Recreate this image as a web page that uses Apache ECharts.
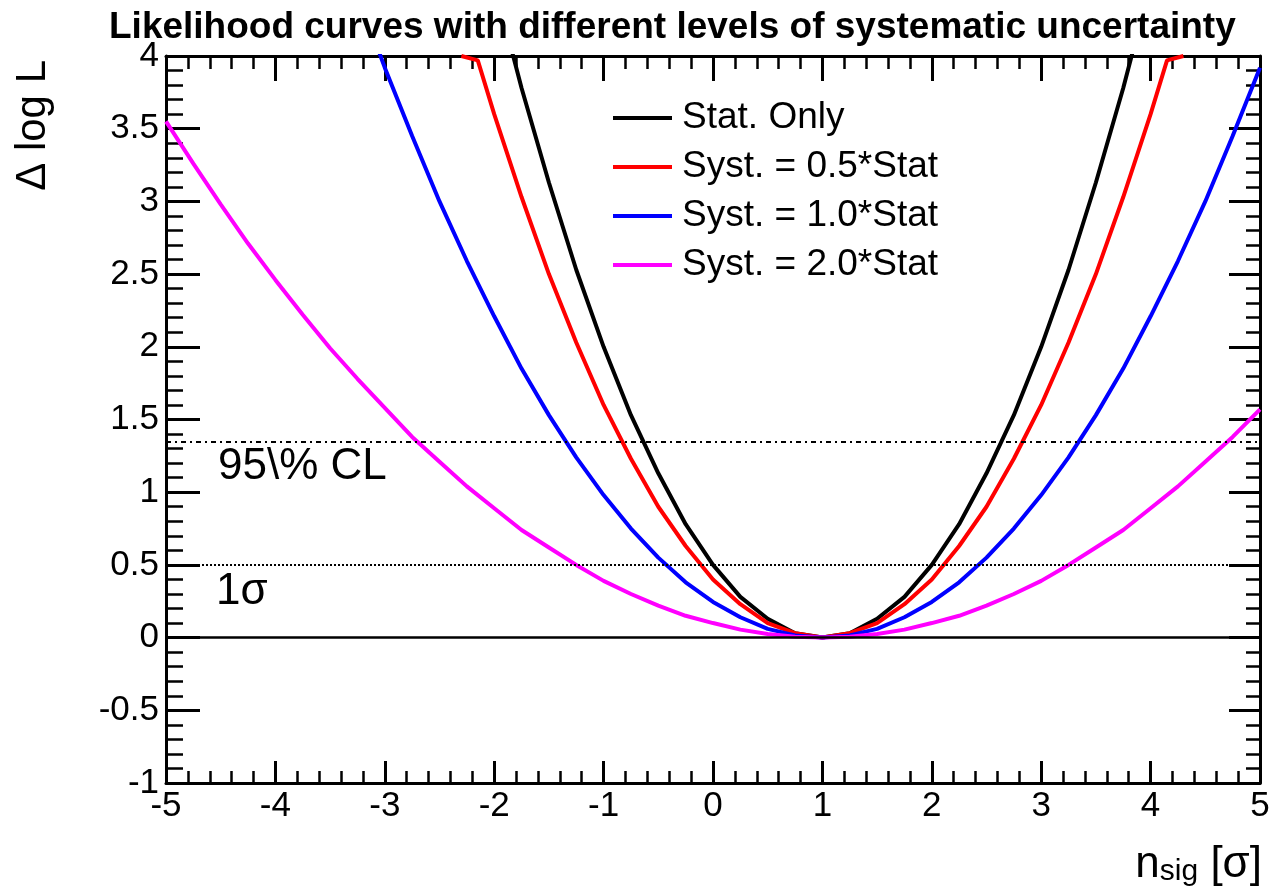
<!DOCTYPE html>
<html>
<head>
<meta charset="utf-8">
<script src="https://cdn.jsdelivr.net/npm/echarts@6/dist/echarts.min.js"></script>
<style>
  html, body { margin: 0; padding: 0; background: #fff; }
  #chart { width: 1273px; height: 892px; }
</style>
</head>
<body>
<div id="chart"></div>
<script>
// Δ log L scans versus signal strength for four systematic-uncertainty levels
const xTickLabels = ['-5', '-4', '-3', '-2', '-1', '0', '1', '2', '3', '4', '5'];

const statOnlyX = [-2, -1.75, -1.5, -1.25, -1, -0.75, -0.5, -0.25, 0, 0.25, 0.5, 0.75, 1, 1.25, 1.5, 1.75, 2, 2.25, 2.5, 2.75, 3, 3.25, 3.5, 3.75, 4];
const statOnlyY = [4.5, 3.78, 3.13, 2.53, 2.0, 1.53, 1.13, 0.78, 0.5, 0.28, 0.13, 0.03, 0, 0.03, 0.13, 0.28, 0.5, 0.78, 1.13, 1.53, 2.0, 2.53, 3.13, 3.78, 4.5];

const syst05X = [-2.3, -2.15, -2, -1.75, -1.5, -1.25, -1, -0.75, -0.5, -0.25, 0, 0.25, 0.5, 0.75, 1, 1.25, 1.5, 1.75, 2, 2.25, 2.5, 2.75, 3, 3.25, 3.5, 3.75, 4, 4.15, 4.3];
const syst05Y = [4.0, 3.97, 3.6, 3.03, 2.5, 2.03, 1.6, 1.23, 0.9, 0.63, 0.4, 0.23, 0.1, 0.03, 0, 0.03, 0.1, 0.23, 0.4, 0.63, 0.9, 1.23, 1.6, 2.03, 2.5, 3.03, 3.6, 3.97, 4.0];

const syst10X = [-3.25, -3, -2.75, -2.5, -2.25, -2, -1.75, -1.5, -1.25, -1, -0.75, -0.5, -0.25, 0, 0.25, 0.5, 0.75, 1, 1.25, 1.5, 1.75, 2, 2.25, 2.5, 2.75, 3, 3.25, 3.5, 3.75, 4, 4.25, 4.5, 4.75, 5];
const syst10Y = [4.43, 3.92, 3.45, 3.0, 2.59, 2.21, 1.85, 1.53, 1.24, 0.98, 0.75, 0.55, 0.38, 0.245, 0.14, 0.06, 0.015, 0, 0.015, 0.06, 0.14, 0.245, 0.38, 0.55, 0.75, 0.98, 1.24, 1.53, 1.85, 2.21, 2.59, 3.0, 3.45, 3.92];

const syst20X = [-5, -4.75, -4.5, -4.25, -4, -3.75, -3.5, -3.25, -3, -2.75, -2.5, -2.25, -2, -1.75, -1.5, -1.25, -1, -0.75, -0.5, -0.25, 0, 0.25, 0.5, 0.75, 1, 1.25, 1.5, 1.75, 2, 2.25, 2.5, 2.75, 3, 3.25, 3.5, 3.75, 4, 4.25, 4.5, 4.75, 5];
const syst20Y = [3.55, 3.26, 2.98, 2.71, 2.46, 2.22, 1.99, 1.78, 1.58, 1.38, 1.21, 1.04, 0.89, 0.74, 0.62, 0.50, 0.39, 0.30, 0.22, 0.15, 0.10, 0.055, 0.025, 0.006, 0, 0.006, 0.025, 0.055, 0.10, 0.15, 0.22, 0.30, 0.39, 0.50, 0.62, 0.74, 0.89, 1.04, 1.21, 1.38, 1.57];

const seriesNames = ['Stat. Only', 'Syst. = 0.5*Stat', 'Syst. = 1.0*Stat', 'Syst. = 2.0*Stat'];
const seriesColors = ['#000000', '#ff0000', '#0000ff', '#ff00ff'];

// reference levels: Δ log L = 0 (minimum), 0.5 (1σ), 1.35 (95\% CL)
const levelZero = 0;
const levelOneSigma = 0.5;
const levelCL = 1.35;

const FONT = '"Liberation Sans", Arial, Helvetica, sans-serif';

function zip(xs, ys) { return xs.map((x, i) => [x, ys[i]]); }

const curves = [
  zip(statOnlyX, statOnlyY),
  zip(syst05X, syst05Y),
  zip(syst10X, syst10Y),
  zip(syst20X, syst20Y)
];

const frameLine = { show: true, onZero: false, lineStyle: { color: '#000', width: 3 } };

function xAxisDef(pos, major, minor, showLabels) {
  return {
    type: 'value', position: pos, min: -5, max: 5, interval: 1,
    axisLine: frameLine,
    axisTick: { show: true, inside: true, length: major, lineStyle: { color: '#000', width: 3 } },
    minorTick: { show: true, splitNumber: 5, length: minor, lineStyle: { color: '#000', width: 2.5 } },
    splitLine: { show: false },
    minorSplitLine: { show: false },
    axisLabel: {
      show: showLabels, margin: 6, color: '#000', fontFamily: FONT, fontSize: 35,
      formatter: v => xTickLabels[Math.round(v + 5)]
    }
  };
}

function yAxisDef(pos, major, minor, showLabels) {
  return {
    type: 'value', position: pos, min: -1, max: 4, interval: 0.5,
    axisLine: frameLine,
    axisTick: { show: true, inside: true, length: major, lineStyle: { color: '#000', width: 3 } },
    minorTick: { show: true, splitNumber: 5, length: minor, lineStyle: { color: '#000', width: 2.5 } },
    splitLine: { show: false },
    minorSplitLine: { show: false },
    axisLabel: {
      show: showLabels, margin: 7, color: '#000', fontFamily: FONT, fontSize: 35,
      padding: [9, 0, 0, 0]
    }
  };
}

const yLeft = yAxisDef('left', 34, 17, true);
yLeft.name = 'Δ log L';
yLeft.nameLocation = 'end';
yLeft.nameRotate = 90;
yLeft.nameGap = -4;
yLeft.nameTextStyle = {
  fontFamily: FONT, fontSize: 42, color: '#000',
  align: 'right', verticalAlign: 'bottom', padding: [0, 0, 112, 0]
};

const option = {
  animation: false,
  backgroundColor: '#fff',
  title: {
    text: 'Likelihood curves with different levels of systematic uncertainty',
    left: 104, top: 4,
    textStyle: { fontFamily: FONT, fontSize: 37, fontWeight: 'bold', color: '#000' }
  },
  legend: {
    data: seriesNames,
    orient: 'vertical', left: 608, top: 93,
    icon: 'rect', itemWidth: 59, itemHeight: 4, itemGap: 9,
    textStyle: { fontFamily: FONT, fontSize: 37, lineHeight: 40, color: '#000', padding: [0, 0, 0, 5] }
  },
  // x-axis title with subscript, bottom-right under the frame
  graphic: [{
    type: 'text', right: 11, top: 837, silent: true,
    style: {
      text: '{m|n}{s|sig}{m| [σ]}',
      rich: {
        m: { fontFamily: FONT, fontSize: 44, lineHeight: 44, fill: '#000', verticalAlign: 'top' },
        s: { fontFamily: FONT, fontSize: 30, lineHeight: 30, fill: '#000', verticalAlign: 'bottom', padding: [20, 0, 0, 0] }
      }
    }
  }],
  grid: { left: 166, right: 13, top: 56, bottom: 109, containLabel: false, outerBoundsMode: 'none' },
  xAxis: [xAxisDef('bottom', 22, 12, true), xAxisDef('top', 25, 13, false)],
  yAxis: [yLeft, yAxisDef('right', 31, 14, false)],
  series: [
    {
      name: 'levels', type: 'line', data: [], silent: true,
      markLine: {
        silent: true, symbol: ['none', 'none'], animation: false,
        data: [
          { yAxis: levelZero, lineStyle: { color: '#000', width: 2.5, type: 'solid' }, label: { show: false } },
          {
            yAxis: levelOneSigma, lineStyle: { color: '#000', width: 2, type: [2, 2] },
            label: {
              show: true, position: 'insideStartBottom', distance: [50, 5], formatter: '1σ',
              fontFamily: FONT, fontSize: 44, color: '#000'
            }
          },
          {
            yAxis: levelCL, lineStyle: { color: '#000', width: 2, type: [5, 4, 2, 4] },
            label: {
              show: true, position: 'insideStartBottom', distance: [52, 4], formatter: '95\\% CL',
              fontFamily: FONT, fontSize: 44, color: '#000'
            }
          }
        ]
      }
    }
  ].concat(curves.map((d, i) => ({
    name: seriesNames[i], type: 'line', data: d,
    showSymbol: false, symbol: 'none', clip: true, smooth: false,
    lineStyle: { color: seriesColors[i], width: 4 },
    itemStyle: { color: seriesColors[i] },
    z: 3
  })))
};

const chart = echarts.init(document.getElementById('chart'), null, { renderer: 'canvas' });
chart.setOption(option);
</script>
</body>
</html>
